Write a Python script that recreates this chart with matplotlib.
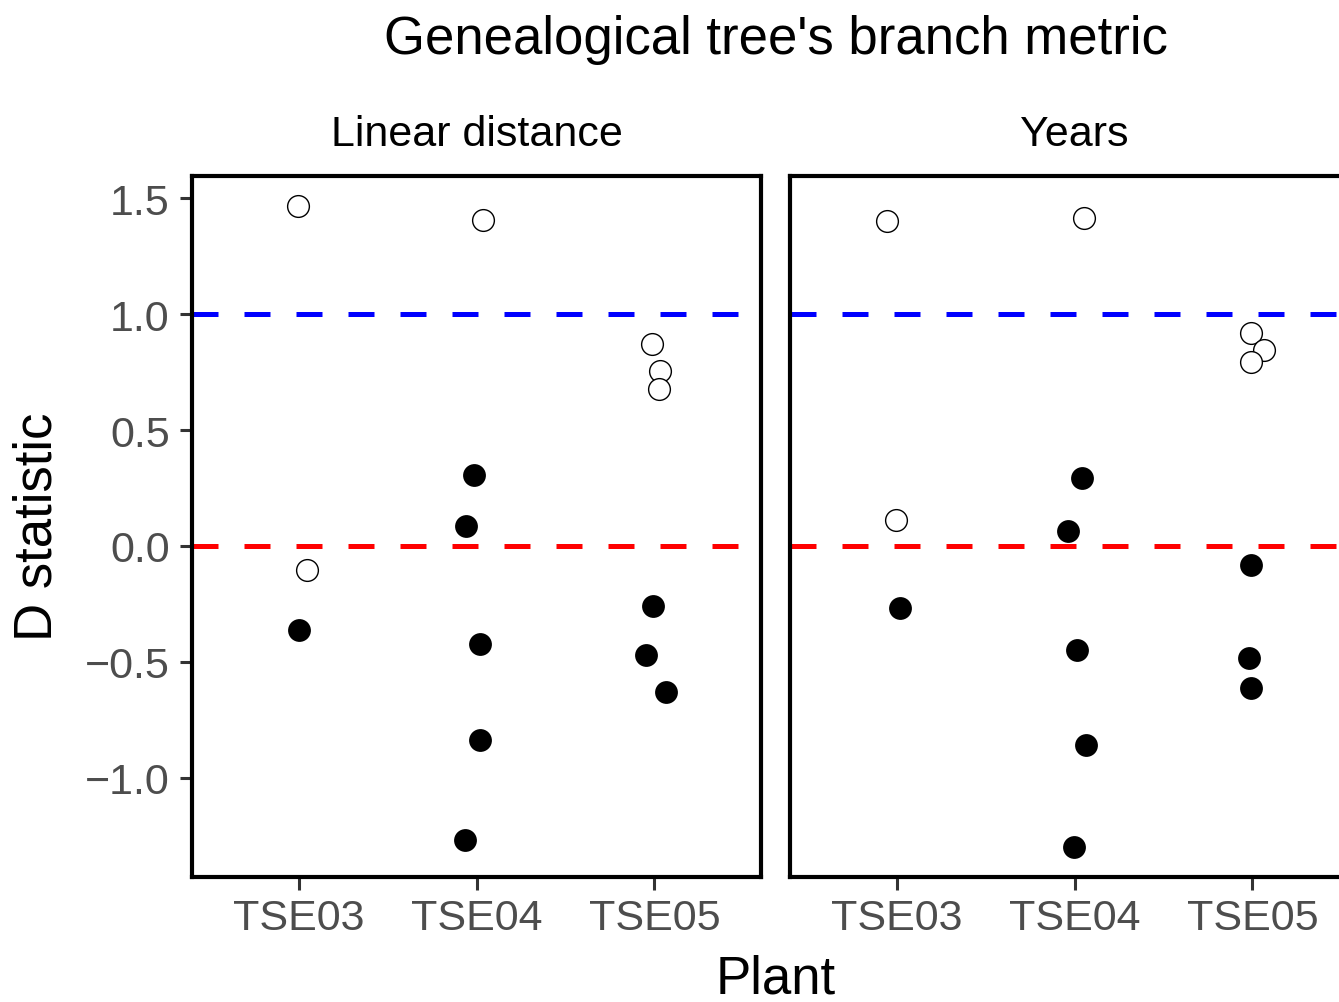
import numpy as np
import matplotlib.pyplot as plt

plt.rcParams['font.family'] = ['Liberation Sans', 'DejaVu Sans']

plants = ['TSE03', 'TSE04', 'TSE05']
panels = ['Linear distance', 'Years']

# per panel: plant index, D value, jitter offset, significant (filled)
lin_plant = [0, 0, 0, 1, 1, 1, 1, 1, 1, 2, 2, 2, 2, 2, 2]
lin_d = [1.466, -0.103, -0.362, 1.405, 0.306, 0.086, -0.422, -0.836, -1.267,
         0.871, 0.754, 0.677, -0.259, -0.470, -0.629]
lin_jit = [-0.005, 0.045, 0.003, 0.038, -0.012, -0.058, 0.02, 0.02, -0.063,
           -0.013, 0.032, 0.026, -0.008, -0.047, 0.065]
lin_sig = [0, 0, 1, 0, 1, 1, 1, 1, 1, 0, 0, 0, 1, 1, 1]

yrs_plant = [0, 0, 0, 1, 1, 1, 1, 1, 1, 2, 2, 2, 2, 2, 2]
yrs_d = [1.401, 0.112, -0.267, 1.414, 0.293, 0.065, -0.448, -0.858, -1.297,
         0.918, 0.845, 0.793, -0.082, -0.483, -0.612]
yrs_jit = [-0.055, -0.004, 0.018, 0.052, 0.04, -0.038, 0.012, 0.063, -0.004,
           -0.01, 0.063, -0.01, -0.01, -0.021, -0.01]
yrs_sig = [0, 0, 1, 0, 1, 1, 1, 1, 1, 0, 0, 0, 1, 1, 1]

ref_lines = [1.0, 0.0]
ref_colors = ['blue', 'red']
yticks = [-1.0, -0.5, 0.0, 0.5, 1.0, 1.5]

W, H = 1339, 1003
fig = plt.figure(figsize=(W / 100, H / 100), dpi=100)

panel_data = [(lin_plant, lin_d, lin_jit, lin_sig), (yrs_plant, yrs_d, yrs_jit, yrs_sig)]
lefts = [192, 790]
pw = 569
bottom_px, top_px = 878, 177

for i, (name, (pl, d, jit, sig)) in enumerate(zip(panels, panel_data)):
    ax = fig.add_axes([lefts[i] / W, (H - bottom_px) / H, pw / W, (bottom_px - top_px) / H])
    x = np.array(pl) + np.array(jit)
    d = np.array(d)
    sig = np.array(sig, dtype=bool)
    for yv, c in zip(ref_lines, ref_colors):
        ax.axhline(yv, color=c, lw=3.6, linestyle=(0, (5.2, 5.2)), zorder=1)
    ax.scatter(x[~sig], d[~sig], s=245, facecolors='white', edgecolors='black', linewidths=1.0, zorder=3)
    ax.scatter(x[sig], d[sig], s=270, color='black', linewidths=0, zorder=3)
    ax.set_xlim(-0.6, 2.6)
    ax.set_ylim(-1.427, 1.595)
    ax.set_xticks(range(len(plants)))
    ax.set_xticklabels(plants)
    ax.set_yticks(yticks)
    ax.set_yticklabels([f"{v:.1f}".replace('-', '\u2212') for v in yticks])
    for s in ax.spines.values():
        s.set_linewidth(3)
    ax.tick_params(axis='both', labelsize=31, colors='#333333', labelcolor='#4d4d4d',
                   length=9, width=2.2)
    ax.tick_params(axis='x', pad=6)
    ax.tick_params(axis='y', pad=7)
    if i == 1:
        ax.tick_params(axis='y', left=False, labelleft=False)
    ax.set_title(name, fontsize=31, pad=22)

cx = (192 + 1359) / 2 / W
fig.text(cx, 1 - 40 / H, "Genealogical tree's branch metric", fontsize=38, ha='center', va='center')
fig.text(cx, 1 - 980 / H, 'Plant', fontsize=38, ha='center', va='center')
fig.text(38 / W, 1 - 527 / H, 'D statistic', fontsize=38, ha='center', va='center', rotation=90)

fig.savefig('out.png', dpi=100)
